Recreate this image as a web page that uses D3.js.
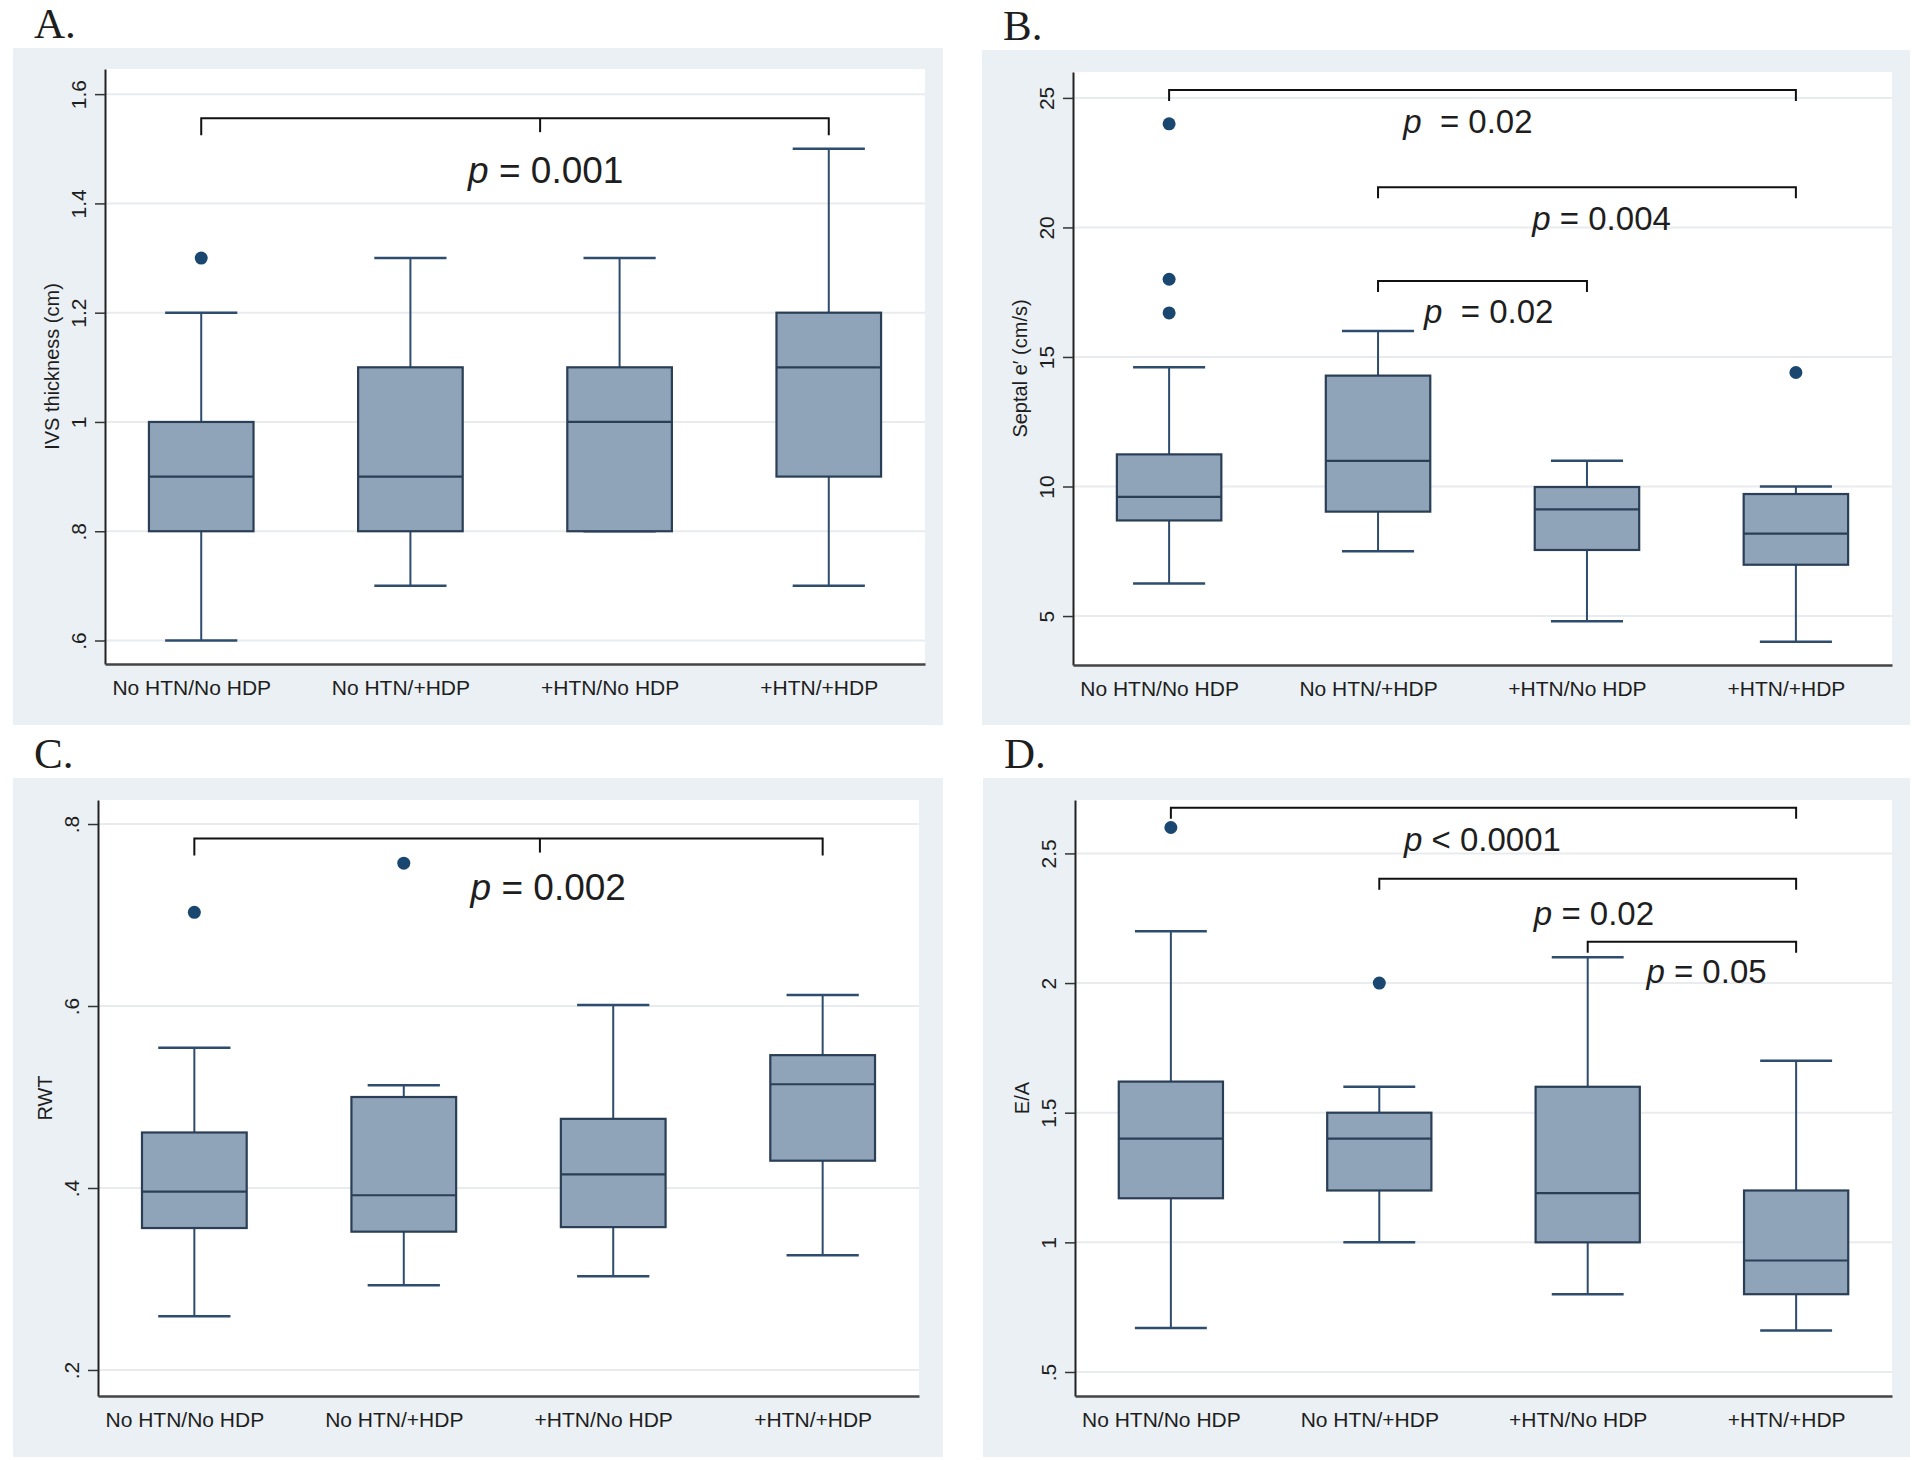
<!DOCTYPE html>
<html>
<head>
<meta charset="utf-8">
<script src="https://cdn.jsdelivr.net/npm/d3@7"></script>
<style>
  body { margin: 0; background: #fff; }
  svg text { font-family: "Liberation Sans", Arial, sans-serif; fill: #1e1e1e; }
  .letter { font-family: "Liberation Serif", "Times New Roman", serif; }
</style>
</head>
<body>
<svg id="fig" width="1920" height="1460"></svg>
<script>
(function () {
  'use strict';

  // data
  var groups = ['No HTN/No HDP', 'No HTN/+HDP', '+HTN/No HDP', '+HTN/+HDP'];

  // [lower whisker, Q1, median, Q3, upper whisker]
  var ivsStats = [
    [0.6, 0.8, 0.9, 1.0, 1.2],
    [0.7, 0.8, 0.9, 1.1, 1.3],
    [0.8, 0.8, 1.0, 1.1, 1.3],
    [0.7, 0.9, 1.1, 1.2, 1.5]
  ];
  var ivsOutliers = [[1.3], [], [], []];
  var ivsTicks = [0.6, 0.8, 1, 1.2, 1.4, 1.6];
  var ivsTickLabels = ['.6', '.8', '1', '1.2', '1.4', '1.6'];
  var ivsTests = [
    {from: 0, to: 3, level: 1.556, mid: 1.62, text: ' = 0.001', textAt: 1.647, textLevel: 1.438}
  ];

  var septalStats = [
    [6.26, 8.69, 9.6, 11.24, 14.6],
    [7.5, 9.03, 10.99, 14.28, 16.0],
    [4.8, 7.55, 9.12, 9.98, 10.99],
    [4.01, 6.98, 8.18, 9.71, 10.0]
  ];
  var septalOutliers = [[24, 18, 16.7], [], [], [14.4]];
  var septalTicks = [5, 10, 15, 20, 25];
  var septalTickLabels = ['5', '10', '15', '20', '25'];
  var septalTests = [
    {from: 0, to: 3, level: 25.31, text: '  = 0.02', textAt: 1.43, textLevel: 23.65},
    {from: 1, to: 3, level: 21.55, text: ' = 0.004', textAt: 2.07, textLevel: 19.9},
    {from: 1, to: 2, level: 17.93, text: '  = 0.02', textAt: 1.53, textLevel: 16.31}
  ];

  var rwtStats = [
    [0.259, 0.356, 0.396, 0.461, 0.554],
    [0.293, 0.352, 0.392, 0.5, 0.513],
    [0.303, 0.357, 0.415, 0.476, 0.601],
    [0.326, 0.43, 0.514, 0.546, 0.612]
  ];
  var rwtOutliers = [[0.703], [0.757], [], []];
  var rwtTicks = [0.2, 0.4, 0.6, 0.8];
  var rwtTickLabels = ['.2', '.4', '.6', '.8'];
  var rwtTests = [
    {from: 0, to: 3, level: 0.784, mid: 1.65, text: ' = 0.002', textAt: 1.69, textLevel: 0.716}
  ];

  var eaStats = [
    [0.67, 1.17, 1.4, 1.62, 2.2],
    [1.0, 1.2, 1.4, 1.5, 1.6],
    [0.8, 1.0, 1.19, 1.6, 2.1],
    [0.66, 0.8, 0.93, 1.2, 1.7]
  ];
  var eaOutliers = [[2.6], [2.0], [], []];
  var eaTicks = [0.5, 1, 1.5, 2, 2.5];
  var eaTickLabels = ['.5', '1', '1.5', '2', '2.5'];
  var eaTests = [
    {from: 0, to: 3, level: 2.676, text: ' < 0.0001', textAt: 1.495, textLevel: 2.51},
    {from: 1, to: 3, level: 2.402, text: ' = 0.02', textAt: 2.03, textLevel: 2.224},
    {from: 2, to: 3, level: 2.159, text: ' = 0.05', textAt: 2.57, textLevel: 2.0}
  ];

  // layout of the four panels
  var panels = [
    {letter: 'A.', title: 'IVS thickness (cm)', stats: ivsStats, outliers: ivsOutliers,
     ticks: ivsTicks, tickLabels: ivsTickLabels, tests: ivsTests, domain: [0.557, 1.646],
     bg: [13, 48, 930, 677], plot: [105, 69, 925, 664], pSize: 37, endDrop: 17},
    {letter: 'B.', title: 'Septal e\u2032 (cm/s)', stats: septalStats, outliers: septalOutliers,
     ticks: septalTicks, tickLabels: septalTickLabels, tests: septalTests, domain: [3.11, 26.0],
     bg: [982, 50, 928, 675], plot: [1073, 72, 1892, 665], pSize: 33, endDrop: 11},
    {letter: 'C.', title: 'RWT', stats: rwtStats, outliers: rwtOutliers,
     ticks: rwtTicks, tickLabels: rwtTickLabels, tests: rwtTests, domain: [0.1714, 0.8264],
     bg: [13, 778, 930, 679], plot: [98, 800, 919, 1396], pSize: 37, endDrop: 17},
    {letter: 'D.', title: 'E/A', stats: eaStats, outliers: eaOutliers,
     ticks: eaTicks, tickLabels: eaTickLabels, tests: eaTests, domain: [0.4074, 2.706],
     bg: [983, 778, 927, 679], plot: [1075, 800, 1892, 1396], pSize: 33, endDrop: 11}
  ];

  var boxFill = '#8fa3b9',
      boxLine = '#2a3e56',
      whiskerLine = '#2e4c6d',
      dotColor = '#1a476f';

  var svg = d3.select('#fig');

  panels.forEach(drawPanel);

  function drawPanel(p) {
    var left = p.plot[0], top = p.plot[1], right = p.plot[2], bottom = p.plot[3];

    // graph region
    svg.append('rect')
      .attr('x', p.bg[0]).attr('y', p.bg[1])
      .attr('width', p.bg[2]).attr('height', p.bg[3])
      .attr('fill', '#eaf0f4');

    svg.append('text')
      .attr('class', 'letter')
      .attr('x', p.bg[0] + 21)
      .attr('y', p.bg[1] - 10)
      .style('font-size', '43px')
      .text(p.letter);

    // plot region
    svg.append('rect')
      .attr('x', left).attr('y', top)
      .attr('width', right - left).attr('height', bottom - top)
      .attr('fill', '#fff');

    var x = d3.scalePoint()
      .domain(groups)
      .range([left, right])
      .padding(0.46);

    var xi = d3.scaleLinear()
      .domain([0, groups.length - 1])
      .range([x(groups[0]), x(groups[groups.length - 1])]);

    var y = d3.scaleLinear()
      .domain(p.domain)
      .range([bottom, top]);

    var step = x.step(),
        boxW = step * 0.5,
        capW = step * 0.345;

    var g = svg.append('g');

    // grid
    g.selectAll('.grid')
      .data(p.ticks)
      .enter()
      .append('line')
      .attr('x1', left).attr('x2', right)
      .attr('y1', function (d) { return y(d); })
      .attr('y2', function (d) { return y(d); })
      .style('stroke', '#e9ecee')
      .style('stroke-width', 2);

    var rows = p.stats.map(function (s, i) {
      return {group: groups[i], lo: s[0], q1: s[1], med: s[2], q3: s[3], hi: s[4]};
    });

    // whiskers
    g.selectAll('.wlo')
      .data(rows)
      .enter()
      .append('line')
      .attr('x1', function (d) { return x(d.group); })
      .attr('x2', function (d) { return x(d.group); })
      .attr('y1', function (d) { return y(d.lo); })
      .attr('y2', function (d) { return y(d.q1); })
      .style('stroke', whiskerLine).style('stroke-width', 2);

    g.selectAll('.whi')
      .data(rows)
      .enter()
      .append('line')
      .attr('x1', function (d) { return x(d.group); })
      .attr('x2', function (d) { return x(d.group); })
      .attr('y1', function (d) { return y(d.q3); })
      .attr('y2', function (d) { return y(d.hi); })
      .style('stroke', whiskerLine).style('stroke-width', 2);

    ['lo', 'hi'].forEach(function (k) {
      g.selectAll('.cap-' + k)
        .data(rows)
        .enter()
        .append('line')
        .attr('x1', function (d) { return x(d.group) - capW / 2; })
        .attr('x2', function (d) { return x(d.group) + capW / 2; })
        .attr('y1', function (d) { return y(d[k]); })
        .attr('y2', function (d) { return y(d[k]); })
        .style('stroke', whiskerLine).style('stroke-width', 2.5);
    });

    // boxes
    g.selectAll('.box')
      .data(rows)
      .enter()
      .append('rect')
      .attr('x', function (d) { return x(d.group) - boxW / 2; })
      .attr('y', function (d) { return y(d.q3); })
      .attr('width', boxW)
      .attr('height', function (d) { return y(d.q1) - y(d.q3); })
      .style('fill', boxFill)
      .style('stroke', boxLine)
      .style('stroke-width', 2.2);

    g.selectAll('.med')
      .data(rows)
      .enter()
      .append('line')
      .attr('x1', function (d) { return x(d.group) - boxW / 2; })
      .attr('x2', function (d) { return x(d.group) + boxW / 2; })
      .attr('y1', function (d) { return y(d.med); })
      .attr('y2', function (d) { return y(d.med); })
      .style('stroke', boxLine).style('stroke-width', 2.2);

    // outside values
    var dots = [];
    p.outliers.forEach(function (arr, i) {
      arr.forEach(function (v) { dots.push({group: groups[i], v: v}); });
    });
    g.selectAll('.dot')
      .data(dots)
      .enter()
      .append('circle')
      .attr('cx', function (d) { return x(d.group); })
      .attr('cy', function (d) { return y(d.v); })
      .attr('r', 6.5)
      .style('fill', dotColor);

    // axes
    var yAxis = d3.axisLeft(y)
      .tickValues(p.ticks)
      .tickFormat(function (d, i) { return p.tickLabels[i]; })
      .tickSize(10)
      .tickSizeOuter(0);

    var ya = svg.append('g')
      .attr('transform', 'translate(' + left + ',0)')
      .call(yAxis);
    ya.select('.domain').style('stroke', '#222').style('stroke-width', 2);
    ya.selectAll('.tick line').style('stroke', '#333').style('stroke-width', 1.5);
    ya.selectAll('.tick text')
      .attr('transform', 'rotate(-90)')
      .attr('x', 0).attr('y', -19).attr('dy', 0)
      .attr('text-anchor', 'middle')
      .style('font-size', '21px')
      .style('font-family', '"Liberation Sans", Arial, sans-serif')
      .style('fill', '#1e1e1e');

    var xAxis = d3.axisBottom(x)
      .tickSize(0)
      .tickSizeOuter(0);

    var xa = svg.append('g')
      .attr('transform', 'translate(0,' + bottom + ')')
      .call(xAxis);
    xa.select('.domain').style('stroke', '#444').style('stroke-width', 2.5);
    xa.selectAll('.tick text')
      .attr('y', 31).attr('dy', 0).attr('dx', -10)
      .style('font-size', '21px')
      .style('font-family', '"Liberation Sans", Arial, sans-serif')
      .style('fill', '#1e1e1e');

    svg.append('text')
      .attr('transform', 'translate(' + (left - 46) + ',' + ((top + bottom) / 2) + ') rotate(-90)')
      .attr('text-anchor', 'middle')
      .style('font-size', '20px')
      .text(p.title);

    // significance brackets
    p.tests.forEach(function (t) {
      var x1 = xi(t.from), x2 = xi(t.to), yy = y(t.level);
      svg.append('path')
        .attr('d', 'M' + x1 + ',' + (yy + p.endDrop) + 'V' + yy + 'H' + x2 + 'V' + (yy + p.endDrop))
        .style('fill', 'none')
        .style('stroke', '#111')
        .style('stroke-width', 2);
      if (t.mid !== undefined) {
        svg.append('line')
          .attr('x1', xi(t.mid)).attr('x2', xi(t.mid))
          .attr('y1', yy).attr('y2', yy + 14)
          .style('stroke', '#111').style('stroke-width', 2);
      }
      var lbl = svg.append('text')
        .attr('x', xi(t.textAt))
        .attr('y', y(t.textLevel))
        .attr('text-anchor', 'middle')
        .style('font-size', p.pSize + 'px')
        .style('white-space', 'pre');
      lbl.append('tspan').style('font-style', 'italic').text('p');
      lbl.append('tspan').text(t.text);
    });
  }
}());
</script>
</body>
</html>
